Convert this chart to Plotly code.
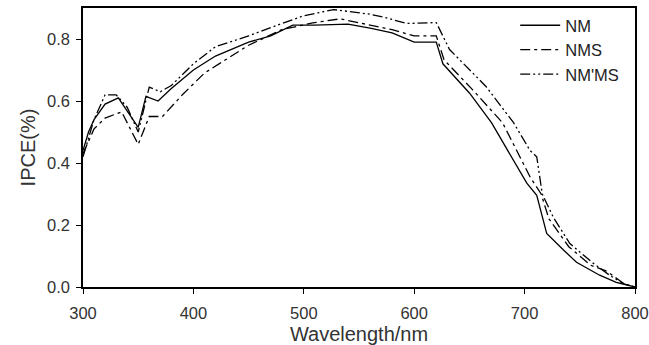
import plotly.graph_objects as go

nm_x = [300, 305, 310, 320, 332, 350, 357, 368, 380, 400, 420, 450, 470, 490, 510, 540, 560, 580, 600, 620, 626, 650, 670, 684, 702, 711, 720, 735, 747, 768, 783, 800]
nm_y = [0.44, 0.50, 0.54, 0.59, 0.61, 0.515, 0.615, 0.60, 0.64, 0.70, 0.745, 0.79, 0.81, 0.845, 0.845, 0.848, 0.835, 0.82, 0.79, 0.79, 0.72, 0.626, 0.53, 0.445, 0.335, 0.296, 0.173, 0.12, 0.08, 0.038, 0.015, 0.0]

nms_x = [300, 305, 310, 320, 335, 350, 360, 372, 390, 410, 450, 480, 508, 533, 560, 580, 600, 620, 627, 653, 680, 705, 715, 722, 740, 760, 775, 790, 800]
nms_y = [0.43, 0.47, 0.51, 0.545, 0.565, 0.46, 0.55, 0.55, 0.62, 0.69, 0.78, 0.83, 0.852, 0.865, 0.845, 0.83, 0.81, 0.81, 0.733, 0.636, 0.53, 0.355, 0.30, 0.22, 0.13, 0.07, 0.05, 0.01, 0.0]

nmms_x = [300, 305, 310, 320, 330, 340, 350, 360, 370, 380, 400, 420, 450, 480, 500, 527, 560, 575, 593, 620, 632, 665, 690, 705, 711, 716, 726, 741, 762, 777, 790, 800]
nmms_y = [0.42, 0.48, 0.54, 0.62, 0.62, 0.58, 0.50, 0.645, 0.63, 0.65, 0.72, 0.775, 0.81, 0.85, 0.875, 0.895, 0.88, 0.868, 0.85, 0.853, 0.766, 0.647, 0.53, 0.44, 0.42, 0.30, 0.225, 0.14, 0.077, 0.038, 0.01, 0.0]

series = [
    ("NM", nm_x, nm_y, "solid"),
    ("NMS", nms_x, nms_y, "10px,4px,3px,4px"),
    ("NM'MS", nmms_x, nmms_y, "10px,3px,2px,3px,2px,3px"),
]

fig = go.Figure()
for name, xs, ys, dash in series:
    fig.add_trace(go.Scatter(x=xs, y=ys, mode="lines", name=name,
                             line=dict(color="black", width=1.3, dash=dash)))

axis_font = dict(family="Liberation Sans, Arial", size=16.5, color="#333")
fig.update_layout(
    width=649, height=345,
    margin=dict(l=83, r=14, t=8, b=58, autoexpand=False),
    paper_bgcolor="white", plot_bgcolor="white",
    font=axis_font,
    legend=dict(x=0.783, y=1.0, xanchor="left", yanchor="top",
                bgcolor="rgba(0,0,0,0)", font=dict(size=16.5, color="#222"),
                tracegroupgap=0, itemwidth=40),
)
fig.update_xaxes(range=[300, 800], tickvals=[300, 400, 500, 600, 700, 800],
                 showgrid=False, zeroline=False, showline=True, linecolor="black",
                 linewidth=1.5, mirror=True, ticks="outside", ticklen=5,
                 tickcolor="black", automargin=False, ticklabelstandoff=5,
                 title=dict(text="Wavelength/nm", standoff=7))
fig.update_yaxes(range=[0, 0.9], tickvals=[0, 0.2, 0.4, 0.6, 0.8], tickformat=".1f",
                 showgrid=False, zeroline=False, showline=True, linecolor="black",
                 linewidth=1.5, mirror=True, ticks="outside", ticklen=5,
                 tickcolor="black", automargin=False, ticklabelstandoff=3,
                 title=dict(text="IPCE(%)", standoff=6))

fig.write_html("out.html")
